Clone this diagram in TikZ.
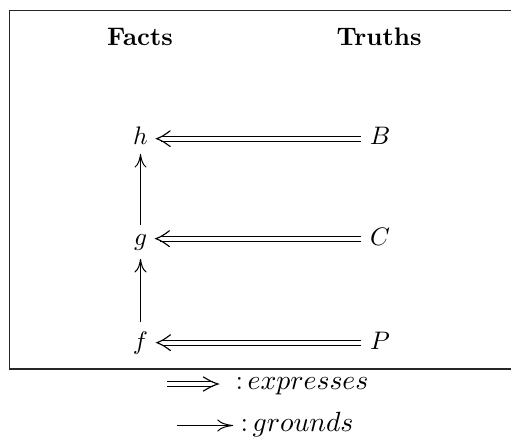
\documentclass[tikz,border=0pt]{standalone}
\usetikzlibrary{arrows.meta}
\begin{document}
\begin{tikzpicture}[x=0.395pt,y=-0.395pt,
  lbl/.style={inner sep=0.3333em, anchor=base},
  head/.style={anchor=base, inner sep=0pt, font=\bfseries},
  legend/.style={anchor=base west, inner sep=0pt, font=\fontsize{11}{13}\selectfont},
  dblline/.style={double, double distance=1.7pt, line width=0.4pt},
  dchev/.pic={\draw[line width=0.45pt, line cap=round]
      (5.3pt,3.1pt) .. controls (2.4pt,1.0pt) .. (0pt,0pt) .. controls (2.4pt,-1.0pt) .. (5.3pt,-3.1pt);},
  lchev/.pic={\draw[line width=0.45pt, line cap=round]
      (5.8pt,2.8pt) .. controls (2.6pt,0.9pt) .. (0pt,0pt) .. controls (2.6pt,-0.9pt) .. (5.8pt,-2.8pt);},
  grarrow/.style={line width=0.4pt, -{To[length=5.4pt,width=4.8pt]}},
  lgrarrow/.style={line width=0.4pt, -{To[length=6.2pt,width=4.8pt]}}]
\useasboundingbox (0,0) rectangle (511,437);
\draw[line width=0.5pt, black!85] (511,10.5) -| (9.5,369) -- (511,369);

\node[head] (facts) at (140,46) {Facts};
\node[head] (truths) at (379,46) {Truths};

\node[lbl] (h) at (140.5,145) {$h$};
\node[lbl] (g) at (140.5,245) {$g$};
\node[lbl] (f) at (140.5,349) {$f$};
\node[lbl] (B) at (380,145) {$B$};
\node[lbl] (C) at (380,245) {$C$};
\node[lbl] (P) at (380,349) {$P$};

\draw[grarrow] (g) -- (h);
\draw[grarrow] (f) -- (g);

\draw[dblline] ([yshift=2.5pt]B.base west) -- ([yshift=2.5pt,xshift=1.8pt]h.base east);
\pic at ([yshift=2.5pt]h.base east) {dchev};
\draw[dblline] ([yshift=2.5pt]C.base west) -- ([yshift=2.5pt,xshift=1.8pt]g.base east);
\pic at ([yshift=2.5pt]g.base east) {dchev};
\draw[dblline] ([yshift=2.5pt]P.base west) -- ([yshift=2.5pt,xshift=1.8pt]f.base east);
\pic at ([yshift=2.5pt]f.base east) {dchev};

\coordinate (e0) at (167,384);
\coordinate (e1) at (218,384);
\node[legend] (ex) at (235,389.5) {:\,$expresses$};
\draw[dblline] (e0) -- ([xshift=-2pt]e1);
\pic[xscale=-1] at (e1) {lchev};

\coordinate (r0) at (177,425.5);
\coordinate (r1) at (233,425.5);
\node[legend] (gr) at (240,431) {:\,$grounds$};
\draw[lgrarrow] (r0) -- (r1);
\end{tikzpicture}
\end{document}
